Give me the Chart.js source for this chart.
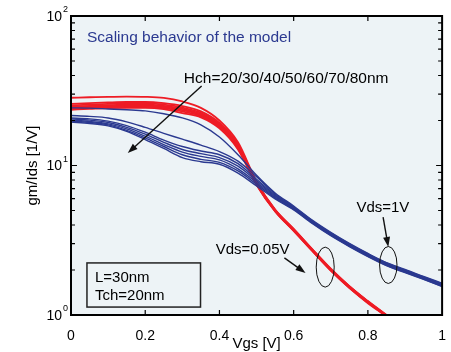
<!DOCTYPE html>
<html>
<head>
<meta charset="utf-8">
<script src="https://cdn.jsdelivr.net/npm/chart.js@4.4.1/dist/chart.umd.min.js"></script>
<style>
  html, body { margin: 0; padding: 0; background: #fff; }
  canvas { display: block; }
</style>
</head>
<body>
<canvas id="myChart" width="451" height="352"></canvas>
<script>
// Vgs sweep [V]
const vgs = [0, 0.05, 0.1, 0.15, 0.2, 0.25, 0.3, 0.35, 0.4, 0.45, 0.5, 0.55, 0.6, 0.65, 0.7, 0.75, 0.8, 0.85, 0.9, 0.95, 1.0];

// gm/Ids [1/V] at Vds = 1V, Hch = 80 ... 20 nm
const highVds80 = [24.3, 24.2, 23.9, 23.6, 23.2, 22.2, 20.8, 18.7, 15.5, 11.8, 8.6, 6.55, 5.36, 4.31, 3.57, 3.01, 2.58, 2.24, 2.02, 1.81, 1.63];
const highVds70 = [21.6, 21.3, 20.8, 19.6, 18.0, 16.4, 15.0, 13.7, 12.4, 10.7, 8.4, 6.45, 5.30, 4.27, 3.54, 2.99, 2.56, 2.23, 2.00, 1.80, 1.62];
const highVds60 = [20.8, 20.5, 19.8, 18.5, 16.7, 14.8, 13.4, 12.5, 11.8, 10.3, 8.1, 6.34, 5.24, 4.23, 3.51, 2.96, 2.54, 2.21, 1.99, 1.78, 1.60];
const highVds50 = [20.5, 20.1, 19.4, 18.0, 16.2, 14.3, 12.8, 12.0, 11.3, 9.9, 7.9, 6.25, 5.20, 4.20, 3.48, 2.94, 2.52, 2.19, 1.97, 1.77, 1.59];
const highVds40 = [20.1, 19.7, 19.0, 17.6, 15.7, 13.8, 12.3, 11.5, 10.9, 9.5, 7.7, 6.16, 5.15, 4.17, 3.45, 2.92, 2.50, 2.17, 1.95, 1.76, 1.58];
const highVds30 = [19.8, 19.4, 18.7, 17.2, 15.3, 13.4, 11.8, 11.0, 10.5, 9.2, 7.5, 6.07, 5.10, 4.13, 3.42, 2.89, 2.48, 2.15, 1.94, 1.74, 1.56];
const highVds20 = [19.5, 19.1, 18.4, 16.9, 14.9, 13.0, 11.3, 10.6, 10.2, 8.9, 7.3, 5.98, 5.05, 4.10, 3.39, 2.87, 2.46, 2.14, 1.92, 1.73, 1.55];

// gm/Ids [1/V] at Vds = 0.05V
const lowVds80 = [28.4, 28.6, 28.8, 28.9, 28.8, 28.3, 26.8, 24.3, 20.0, 14.3, 7.8, 5.08, 3.77, 2.76, 2.04, 1.56, 1.24, 1.00, 0.81, 0.67, 0.56];
const lowVds70 = [25.8, 26.1, 26.4, 26.6, 26.6, 26.1, 25.0, 23.0, 19.3, 13.9, 7.7, 5.05, 3.75, 2.75, 2.03, 1.56, 1.23, 1.00, 0.81, 0.67, 0.56];
const lowVds60 = [25.2, 25.5, 25.8, 26.0, 26.0, 25.5, 24.4, 22.5, 18.9, 13.6, 7.6, 5.03, 3.73, 2.73, 2.02, 1.55, 1.23, 0.99, 0.80, 0.66, 0.55];
const lowVds50 = [24.7, 25.0, 25.3, 25.5, 25.5, 25.0, 23.9, 22.1, 18.6, 13.4, 7.6, 5.00, 3.71, 2.72, 2.01, 1.54, 1.22, 0.99, 0.80, 0.66, 0.55];
const lowVds40 = [24.3, 24.6, 24.9, 25.1, 25.1, 24.6, 23.5, 21.8, 18.3, 13.2, 7.5, 4.98, 3.69, 2.71, 2.00, 1.53, 1.21, 0.99, 0.80, 0.66, 0.55];
const lowVds30 = [24.0, 24.3, 24.6, 24.7, 24.7, 24.2, 23.0, 21.4, 18.0, 13.0, 7.5, 4.95, 3.67, 2.69, 1.99, 1.52, 1.21, 0.98, 0.79, 0.65, 0.54];
const lowVds20 = [23.6, 23.9, 24.2, 24.3, 24.3, 23.8, 22.4, 21.0, 17.7, 12.8, 7.4, 4.93, 3.65, 2.68, 1.98, 1.52, 1.20, 0.98, 0.79, 0.65, 0.54];

const highVdsSeries = [highVds80, highVds70, highVds60, highVds50, highVds40, highVds30, highVds20];
const lowVdsSeries = [lowVds80, lowVds70, lowVds60, lowVds50, lowVds40, lowVds30, lowVds20];

const yDecades = [1, 10, 100];

const blue = "#2b3990";
const red = "#ee1c25";
const font = "'Liberation Sans', Arial, sans-serif";

const toPoints = function (arr) {
    return arr.map((v, i) => ({ x: vgs[i], y: v }));
};

const datasets = [];
highVdsSeries.forEach((s) => {
    datasets.push({ data: toPoints(s), borderColor: blue, borderWidth: 1.4 });
});
lowVdsSeries.forEach((s) => {
    datasets.push({ data: toPoints(s), borderColor: red, borderWidth: 1.8 });
});

const arrow = function (ctx, x1, y1, x2, y2) {
    const ang = Math.atan2(y2 - y1, x2 - x1);
    const hl = 10, hw = 3.5;
    ctx.beginPath();
    ctx.moveTo(x1, y1);
    ctx.lineTo(x2 - Math.cos(ang) * hl * 0.8, y2 - Math.sin(ang) * hl * 0.8);
    ctx.stroke();
    ctx.beginPath();
    ctx.moveTo(x2, y2);
    ctx.lineTo(x2 - Math.cos(ang) * hl - Math.sin(ang) * hw, y2 - Math.sin(ang) * hl + Math.cos(ang) * hw);
    ctx.lineTo(x2 - Math.cos(ang) * hl + Math.sin(ang) * hw, y2 - Math.sin(ang) * hl - Math.cos(ang) * hw);
    ctx.closePath();
    ctx.fill();
};

const matlabLook = {
    id: "matlabLook",
    beforeDatasetsDraw(chart) {
        const a = chart.chartArea;
        const ctx = chart.ctx;
        ctx.save();
        ctx.fillStyle = "#edf3f6";
        ctx.fillRect(a.left, a.top, a.right - a.left, a.bottom - a.top);
        ctx.restore();
    },
    afterDatasetsDraw(chart) {
        const a = chart.chartArea;
        const ctx = chart.ctx;
        const xs = chart.scales.x;
        const ys = chart.scales.y;
        const X = (v) => xs.getPixelForValue(v);
        const Y = (v) => ys.getPixelForValue(v);
        ctx.save();

        // ticks pointing inward
        ctx.strokeStyle = "#000";
        ctx.lineWidth = 1.2;
        ctx.beginPath();
        xs.ticks.forEach((t) => {
            const px = X(t.value);
            if (px <= a.left + 1 || px >= a.right - 1) return;
            ctx.moveTo(px, a.bottom); ctx.lineTo(px, a.bottom - 5);
            ctx.moveTo(px, a.top); ctx.lineTo(px, a.top + 5);
        });
        for (let d = 1; d < 100; d *= 10) {
            for (let m = 1; m <= 9; m++) {
                const py = Y(m * d);
                if (py >= a.bottom - 1) continue;
                const len = m === 1 ? 6 : 4;
                ctx.moveTo(a.left, py); ctx.lineTo(a.left + len, py);
                ctx.moveTo(a.right, py); ctx.lineTo(a.right - len, py);
            }
        }
        ctx.stroke();

        // frame
        ctx.lineWidth = 2;
        ctx.strokeRect(a.left, a.top, a.right - a.left, a.bottom - a.top);

        // y tick labels 10^n
        ctx.fillStyle = "#000";
        yDecades.forEach((d) => {
            const py = Y(d);
            ctx.font = "14px " + font;
            ctx.textAlign = "right";
            ctx.textBaseline = "middle";
            ctx.fillText("10", a.left - 9, py + 1);
            ctx.font = "9px " + font;
            ctx.textAlign = "left";
            ctx.fillText(String(Math.round(Math.log10(d))), a.left - 8, py - 6);
        });

        // axis titles
        ctx.font = "15px " + font;
        ctx.textAlign = "center";
        ctx.textBaseline = "alphabetic";
        ctx.fillText("Vgs [V]", (a.left + a.right) / 2, 348);
        ctx.save();
        ctx.translate(37, (a.top + a.bottom) / 2);
        ctx.rotate(-Math.PI / 2);
        ctx.fillText("gm/Ids [1/V]", 0, 0);
        ctx.restore();

        // annotations
        ctx.textAlign = "left";
        ctx.fillStyle = blue;
        ctx.font = "15.5px " + font;
        ctx.fillText("Scaling behavior of the model", X(0.043), Y(67));

        ctx.fillStyle = "#000";
        ctx.fillText("Hch=20/30/40/50/60/70/80nm", X(0.304), Y(35.6));
        ctx.font = "15px " + font;
        ctx.fillText("Vds=1V", X(0.769), Y(4.89));
        ctx.fillText("Vds=0.05V", X(0.39), Y(2.56));

        ctx.lineWidth = 1.4;
        ctx.strokeStyle = "#111";
        ctx.fillStyle = "#111";
        arrow(ctx, X(0.352), Y(34), X(0.153), Y(12.1));
        arrow(ctx, X(0.841), Y(4.52), X(0.855), Y(2.85));
        arrow(ctx, X(0.575), Y(2.41), X(0.632), Y(1.91));

        ctx.lineWidth = 1;
        ctx.beginPath();
        ctx.ellipse(X(0.855), Y(2.16), 8.7, 18.5, 0, 0, Math.PI * 2);
        ctx.stroke();
        ctx.beginPath();
        ctx.ellipse(X(0.685), Y(2.09), 9, 20, 0, 0, Math.PI * 2);
        ctx.stroke();

        // parameter box
        const bx1 = X(0.043), bx2 = X(0.349), by1 = Y(2.23), by2 = Y(1.13);
        ctx.fillStyle = "#edf3f6";
        ctx.fillRect(bx1, by1, bx2 - bx1, by2 - by1);
        ctx.strokeStyle = "#222";
        ctx.lineWidth = 1.5;
        ctx.strokeRect(bx1, by1, bx2 - bx1, by2 - by1);
        ctx.fillStyle = "#000";
        ctx.font = "15px " + font;
        ctx.fillText("L=30nm", bx1 + 8, by1 + 19);
        ctx.fillText("Tch=20nm", bx1 + 8, by1 + 37);

        ctx.restore();
    }
};

new Chart(document.querySelector("#myChart"), {
    type: "line",
    data: { datasets: datasets },
    options: {
        responsive: false,
        animation: false,
        layout: { padding: { top: 16, right: 8, left: 0, bottom: 0 } },
        elements: {
            point: { radius: 0 },
            line: { cubicInterpolationMode: "monotone", fill: false }
        },
        plugins: {
            legend: { display: false },
            tooltip: { enabled: false }
        },
        scales: {
            x: {
                type: "linear",
                min: 0,
                max: 1,
                grid: { display: false },
                border: { display: false },
                ticks: {
                    stepSize: 0.2,
                    color: "#000",
                    padding: 5,
                    maxRotation: 0,
                    font: { family: font, size: 14 },
                    callback: (v) => (v === 0 ? "0" : v === 1 ? "1" : v.toFixed(1))
                },
                afterFit: (scale) => { scale.height = 37; }
            },
            y: {
                type: "logarithmic",
                min: 1,
                max: 100,
                grid: { display: false },
                border: { display: false },
                ticks: { display: false },
                afterFit: (scale) => { scale.width = 71; }
            }
        }
    },
    plugins: [matlabLook]
});
</script>
</body>
</html>
